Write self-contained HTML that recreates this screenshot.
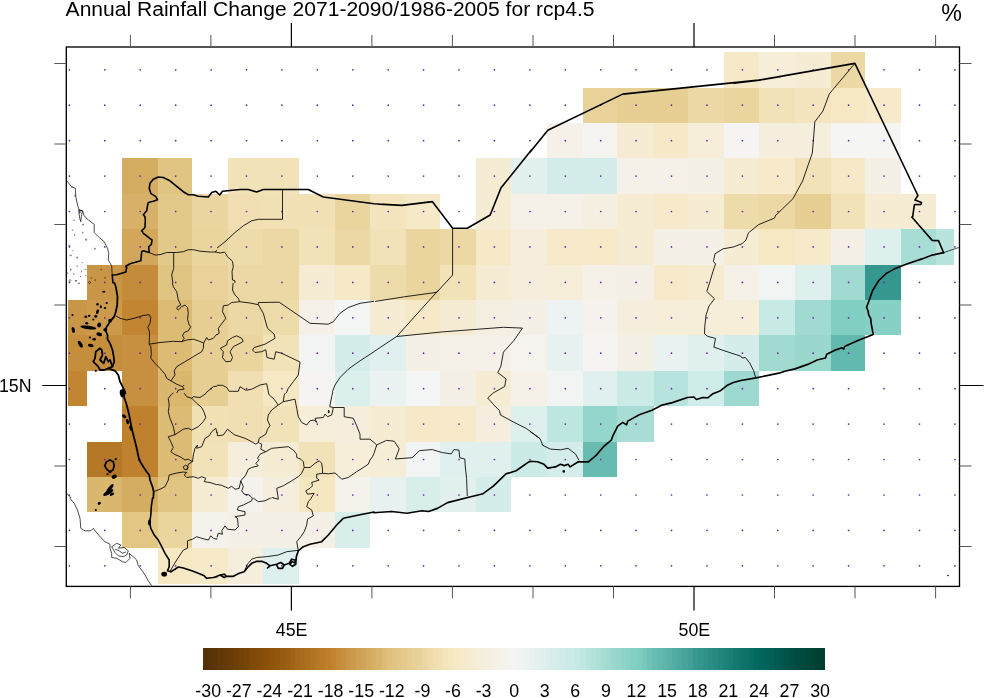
<!DOCTYPE html>
<html lang="en"><head><meta charset="utf-8"><title>Annual Rainfall Change 2071-2090/1986-2005 for rcp4.5</title>
<style>html,body{margin:0;padding:0;background:#fff}body{width:984px;height:698px;overflow:hidden}svg{display:block}text{font-family:"Liberation Sans",sans-serif;fill:#000}</style></head><body>
<svg width="984" height="698" viewBox="0 0 984 698">
<rect width="984" height="698" fill="#fff"/>
<g shape-rendering="crispEdges">
<rect x="724" y="52" width="35" height="36" fill="#f6e9c7"/>
<rect x="759" y="52" width="36" height="36" fill="#f6eed9"/>
<rect x="795" y="52" width="36" height="36" fill="#f6ecd3"/>
<rect x="831" y="52" width="34" height="36" fill="#ecd8a5"/>
<rect x="583" y="88" width="34" height="35" fill="#e8d29a"/>
<rect x="617" y="88" width="37" height="35" fill="#e7cf94"/>
<rect x="654" y="88" width="34" height="35" fill="#e7cf94"/>
<rect x="688" y="88" width="36" height="35" fill="#ecd8a5"/>
<rect x="724" y="88" width="35" height="35" fill="#ead59f"/>
<rect x="759" y="88" width="36" height="35" fill="#f2e2b8"/>
<rect x="795" y="88" width="36" height="35" fill="#f4e5be"/>
<rect x="831" y="88" width="34" height="35" fill="#f6e8c3"/>
<rect x="865" y="88" width="36" height="35" fill="#f6eacb"/>
<rect x="547" y="123" width="36" height="35" fill="#f5f1e9"/>
<rect x="583" y="123" width="34" height="35" fill="#f5f4f0"/>
<rect x="617" y="123" width="37" height="35" fill="#f6ecd3"/>
<rect x="654" y="123" width="34" height="35" fill="#f6e9c7"/>
<rect x="688" y="123" width="36" height="35" fill="#f6eed9"/>
<rect x="724" y="123" width="35" height="35" fill="#f5f4f2"/>
<rect x="759" y="123" width="36" height="35" fill="#f5eedd"/>
<rect x="795" y="123" width="36" height="35" fill="#f5eedd"/>
<rect x="831" y="123" width="34" height="35" fill="#f5f5f4"/>
<rect x="865" y="123" width="36" height="35" fill="#f5f5f4"/>
<rect x="122" y="158" width="36" height="36" fill="#d4ac62"/>
<rect x="158" y="158" width="34" height="36" fill="#e0c481"/>
<rect x="228" y="158" width="35" height="36" fill="#f2e2b8"/>
<rect x="263" y="158" width="36" height="36" fill="#f2e2b8"/>
<rect x="476" y="158" width="35" height="36" fill="#f6ecd3"/>
<rect x="511" y="158" width="36" height="36" fill="#e2f0ee"/>
<rect x="547" y="158" width="36" height="36" fill="#d5edea"/>
<rect x="583" y="158" width="34" height="36" fill="#d5edea"/>
<rect x="617" y="158" width="37" height="36" fill="#f5f1e9"/>
<rect x="654" y="158" width="34" height="36" fill="#f5f1e9"/>
<rect x="688" y="158" width="36" height="36" fill="#f5f0e5"/>
<rect x="724" y="158" width="35" height="36" fill="#f6ecd3"/>
<rect x="759" y="158" width="36" height="36" fill="#f6eacb"/>
<rect x="795" y="158" width="36" height="36" fill="#f2e2b8"/>
<rect x="831" y="158" width="34" height="36" fill="#f6e9c7"/>
<rect x="865" y="158" width="36" height="36" fill="#f5f0e5"/>
<rect x="122" y="194" width="36" height="35" fill="#d7b169"/>
<rect x="158" y="194" width="34" height="35" fill="#e3c989"/>
<rect x="192" y="194" width="36" height="35" fill="#ebd6a2"/>
<rect x="228" y="194" width="35" height="35" fill="#f1dfb3"/>
<rect x="263" y="194" width="36" height="35" fill="#f1e1b5"/>
<rect x="299" y="194" width="36" height="35" fill="#f1e1b5"/>
<rect x="335" y="194" width="35" height="35" fill="#ead59f"/>
<rect x="370" y="194" width="36" height="35" fill="#f4e5be"/>
<rect x="406" y="194" width="34" height="35" fill="#f6e9c7"/>
<rect x="476" y="194" width="35" height="35" fill="#f6ecd3"/>
<rect x="511" y="194" width="36" height="35" fill="#f5f1e9"/>
<rect x="547" y="194" width="36" height="35" fill="#f5f1e9"/>
<rect x="583" y="194" width="34" height="35" fill="#f5efe1"/>
<rect x="617" y="194" width="37" height="35" fill="#f6ecd3"/>
<rect x="654" y="194" width="34" height="35" fill="#f6eacb"/>
<rect x="688" y="194" width="36" height="35" fill="#f6ecd3"/>
<rect x="724" y="194" width="35" height="35" fill="#eedbaa"/>
<rect x="759" y="194" width="36" height="35" fill="#ecd8a5"/>
<rect x="795" y="194" width="36" height="35" fill="#e7cf94"/>
<rect x="831" y="194" width="34" height="35" fill="#f2e2b8"/>
<rect x="865" y="194" width="36" height="35" fill="#f6ecd3"/>
<rect x="901" y="194" width="35" height="35" fill="#f6ecd3"/>
<rect x="122" y="229" width="36" height="36" fill="#d2a75c"/>
<rect x="158" y="229" width="34" height="36" fill="#e3c989"/>
<rect x="192" y="229" width="36" height="36" fill="#ead59f"/>
<rect x="228" y="229" width="35" height="36" fill="#eedbaa"/>
<rect x="263" y="229" width="36" height="36" fill="#ecd8a5"/>
<rect x="299" y="229" width="36" height="36" fill="#f2e2b8"/>
<rect x="335" y="229" width="35" height="36" fill="#ecd8a5"/>
<rect x="370" y="229" width="36" height="36" fill="#f2e2b8"/>
<rect x="406" y="229" width="34" height="36" fill="#ead59f"/>
<rect x="440" y="229" width="36" height="36" fill="#ecd8a5"/>
<rect x="476" y="229" width="35" height="36" fill="#f6e9c7"/>
<rect x="511" y="229" width="36" height="36" fill="#f5eedd"/>
<rect x="547" y="229" width="36" height="36" fill="#f6eacb"/>
<rect x="583" y="229" width="34" height="36" fill="#f6eac9"/>
<rect x="617" y="229" width="37" height="36" fill="#f6ecd3"/>
<rect x="654" y="229" width="34" height="36" fill="#f5f0e5"/>
<rect x="688" y="229" width="36" height="36" fill="#f5f0e5"/>
<rect x="724" y="229" width="35" height="36" fill="#f6ecd3"/>
<rect x="759" y="229" width="36" height="36" fill="#f6e8c3"/>
<rect x="795" y="229" width="36" height="36" fill="#f6eacb"/>
<rect x="831" y="229" width="34" height="36" fill="#f5f0e5"/>
<rect x="865" y="229" width="36" height="36" fill="#def0ed"/>
<rect x="901" y="229" width="35" height="36" fill="#a8ddd5"/>
<rect x="936" y="229" width="18" height="36" fill="#b9e4de"/>
<rect x="87" y="265" width="35" height="35" fill="#c99546"/>
<rect x="122" y="265" width="36" height="35" fill="#c48b3a"/>
<rect x="158" y="265" width="34" height="35" fill="#e0c481"/>
<rect x="192" y="265" width="36" height="35" fill="#e8d29a"/>
<rect x="228" y="265" width="35" height="35" fill="#ecd8a5"/>
<rect x="263" y="265" width="36" height="35" fill="#ecd8a5"/>
<rect x="299" y="265" width="36" height="35" fill="#f6ecd3"/>
<rect x="335" y="265" width="35" height="35" fill="#f6e9c7"/>
<rect x="370" y="265" width="36" height="35" fill="#eedbaa"/>
<rect x="406" y="265" width="34" height="35" fill="#ead59f"/>
<rect x="440" y="265" width="36" height="35" fill="#f2e2b8"/>
<rect x="476" y="265" width="35" height="35" fill="#f6ecd3"/>
<rect x="511" y="265" width="36" height="35" fill="#f5eedd"/>
<rect x="547" y="265" width="36" height="35" fill="#f6eed9"/>
<rect x="583" y="265" width="34" height="35" fill="#f5f1e9"/>
<rect x="617" y="265" width="37" height="35" fill="#f5f0e5"/>
<rect x="654" y="265" width="34" height="35" fill="#f6eacb"/>
<rect x="688" y="265" width="36" height="35" fill="#f6ebcf"/>
<rect x="724" y="265" width="35" height="35" fill="#f5f1e9"/>
<rect x="759" y="265" width="36" height="35" fill="#f0f4f3"/>
<rect x="795" y="265" width="36" height="35" fill="#def0ed"/>
<rect x="831" y="265" width="34" height="35" fill="#a0dad1"/>
<rect x="865" y="265" width="36" height="35" fill="#35978f"/>
<rect x="68" y="300" width="19" height="35" fill="#c99546"/>
<rect x="87" y="300" width="35" height="35" fill="#cc9a4c"/>
<rect x="122" y="300" width="36" height="35" fill="#c28633"/>
<rect x="158" y="300" width="34" height="35" fill="#dcbc75"/>
<rect x="192" y="300" width="36" height="35" fill="#e7cf94"/>
<rect x="228" y="300" width="35" height="35" fill="#ecd8a5"/>
<rect x="263" y="300" width="36" height="35" fill="#eedbaa"/>
<rect x="299" y="300" width="36" height="35" fill="#f5f1e9"/>
<rect x="335" y="300" width="35" height="35" fill="#f4f5f5"/>
<rect x="370" y="300" width="36" height="35" fill="#f6ecd3"/>
<rect x="406" y="300" width="34" height="35" fill="#f6e9c7"/>
<rect x="440" y="300" width="36" height="35" fill="#f6ecd3"/>
<rect x="476" y="300" width="35" height="35" fill="#f5efe1"/>
<rect x="511" y="300" width="36" height="35" fill="#f5f0e5"/>
<rect x="547" y="300" width="36" height="35" fill="#edf3f2"/>
<rect x="583" y="300" width="34" height="35" fill="#f5f2ed"/>
<rect x="617" y="300" width="37" height="35" fill="#f5eedd"/>
<rect x="654" y="300" width="34" height="35" fill="#f6eed9"/>
<rect x="688" y="300" width="36" height="35" fill="#f6eed9"/>
<rect x="724" y="300" width="35" height="35" fill="#f6eed9"/>
<rect x="759" y="300" width="36" height="35" fill="#c7eae5"/>
<rect x="795" y="300" width="36" height="35" fill="#a0dad1"/>
<rect x="831" y="300" width="34" height="35" fill="#81cec2"/>
<rect x="865" y="300" width="36" height="35" fill="#87d0c5"/>
<rect x="68" y="335" width="19" height="36" fill="#c58e3d"/>
<rect x="87" y="335" width="35" height="36" fill="#c58e3d"/>
<rect x="122" y="335" width="36" height="36" fill="#c79040"/>
<rect x="158" y="335" width="34" height="36" fill="#dcbc75"/>
<rect x="192" y="335" width="36" height="36" fill="#e7cf94"/>
<rect x="228" y="335" width="35" height="36" fill="#ead59f"/>
<rect x="263" y="335" width="36" height="36" fill="#f2e2b8"/>
<rect x="299" y="335" width="36" height="36" fill="#f2f4f4"/>
<rect x="335" y="335" width="35" height="36" fill="#d5edea"/>
<rect x="370" y="335" width="36" height="36" fill="#e0f0ee"/>
<rect x="406" y="335" width="34" height="36" fill="#f5f0e5"/>
<rect x="440" y="335" width="36" height="36" fill="#f5f1e9"/>
<rect x="476" y="335" width="35" height="36" fill="#f5f1e9"/>
<rect x="511" y="335" width="36" height="36" fill="#f5f3ee"/>
<rect x="547" y="335" width="36" height="36" fill="#e6f1f0"/>
<rect x="583" y="335" width="34" height="36" fill="#f5f4f2"/>
<rect x="617" y="335" width="37" height="36" fill="#f5f0e5"/>
<rect x="654" y="335" width="34" height="36" fill="#ebf3f2"/>
<rect x="688" y="335" width="36" height="36" fill="#e0f0ee"/>
<rect x="724" y="335" width="35" height="36" fill="#d5edea"/>
<rect x="759" y="335" width="36" height="36" fill="#a0dad1"/>
<rect x="795" y="335" width="36" height="36" fill="#9ad8ce"/>
<rect x="831" y="335" width="34" height="36" fill="#64b9ae"/>
<rect x="68" y="371" width="19" height="35" fill="#c28633"/>
<rect x="122" y="371" width="36" height="35" fill="#c79040"/>
<rect x="158" y="371" width="34" height="35" fill="#d9b76f"/>
<rect x="192" y="371" width="36" height="35" fill="#e7cf94"/>
<rect x="228" y="371" width="35" height="35" fill="#f1dfb3"/>
<rect x="263" y="371" width="36" height="35" fill="#f6e8c3"/>
<rect x="299" y="371" width="36" height="35" fill="#f5f4f2"/>
<rect x="335" y="371" width="35" height="35" fill="#dbefec"/>
<rect x="370" y="371" width="36" height="35" fill="#ebf3f2"/>
<rect x="406" y="371" width="34" height="35" fill="#f4f5f5"/>
<rect x="440" y="371" width="36" height="35" fill="#f5f0e5"/>
<rect x="476" y="371" width="35" height="35" fill="#f6ecd3"/>
<rect x="511" y="371" width="36" height="35" fill="#f5f1e9"/>
<rect x="547" y="371" width="36" height="35" fill="#f2f4f4"/>
<rect x="583" y="371" width="34" height="35" fill="#e0f0ee"/>
<rect x="617" y="371" width="37" height="35" fill="#cbebe6"/>
<rect x="654" y="371" width="34" height="35" fill="#b6e3dd"/>
<rect x="688" y="371" width="36" height="35" fill="#ceece8"/>
<rect x="724" y="371" width="35" height="35" fill="#9dd9d0"/>
<rect x="122" y="406" width="36" height="36" fill="#bf812d"/>
<rect x="158" y="406" width="34" height="36" fill="#dcbc75"/>
<rect x="192" y="406" width="36" height="36" fill="#f1e1b5"/>
<rect x="228" y="406" width="35" height="36" fill="#f1dfb3"/>
<rect x="263" y="406" width="36" height="36" fill="#f2e2b8"/>
<rect x="299" y="406" width="36" height="36" fill="#f6eed9"/>
<rect x="335" y="406" width="35" height="36" fill="#f5eedd"/>
<rect x="370" y="406" width="36" height="36" fill="#f6ecd3"/>
<rect x="406" y="406" width="34" height="36" fill="#f6e9c7"/>
<rect x="440" y="406" width="36" height="36" fill="#f6eacb"/>
<rect x="476" y="406" width="35" height="36" fill="#f5eedf"/>
<rect x="511" y="406" width="36" height="36" fill="#def0ed"/>
<rect x="547" y="406" width="36" height="36" fill="#bfe7e1"/>
<rect x="583" y="406" width="34" height="36" fill="#95d6cc"/>
<rect x="617" y="406" width="37" height="36" fill="#a8ddd5"/>
<rect x="87" y="442" width="35" height="35" fill="#b57826"/>
<rect x="122" y="442" width="36" height="35" fill="#bf812d"/>
<rect x="158" y="442" width="34" height="35" fill="#dcbc75"/>
<rect x="192" y="442" width="36" height="35" fill="#f2e2b8"/>
<rect x="228" y="442" width="35" height="35" fill="#f5eedd"/>
<rect x="263" y="442" width="36" height="35" fill="#f6ecd3"/>
<rect x="299" y="442" width="36" height="35" fill="#f2e2b8"/>
<rect x="335" y="442" width="35" height="35" fill="#f6eed9"/>
<rect x="370" y="442" width="36" height="35" fill="#f6edd7"/>
<rect x="406" y="442" width="34" height="35" fill="#f0f4f3"/>
<rect x="440" y="442" width="36" height="35" fill="#e0f0ee"/>
<rect x="476" y="442" width="35" height="35" fill="#e0f0ee"/>
<rect x="511" y="442" width="36" height="35" fill="#cbebe6"/>
<rect x="547" y="442" width="36" height="35" fill="#d5edea"/>
<rect x="583" y="442" width="34" height="35" fill="#67bbb0"/>
<rect x="87" y="477" width="35" height="35" fill="#d9b76f"/>
<rect x="122" y="477" width="36" height="35" fill="#d4ac62"/>
<rect x="158" y="477" width="34" height="35" fill="#e0c481"/>
<rect x="192" y="477" width="36" height="35" fill="#f6ecd3"/>
<rect x="228" y="477" width="35" height="35" fill="#f5f2ed"/>
<rect x="263" y="477" width="36" height="35" fill="#f5eedf"/>
<rect x="299" y="477" width="36" height="35" fill="#f5e7c0"/>
<rect x="335" y="477" width="35" height="35" fill="#f5f1eb"/>
<rect x="370" y="477" width="36" height="35" fill="#e6f1f0"/>
<rect x="406" y="477" width="34" height="35" fill="#d7eeeb"/>
<rect x="440" y="477" width="36" height="35" fill="#e2f0ee"/>
<rect x="476" y="477" width="35" height="35" fill="#d5edea"/>
<rect x="122" y="512" width="36" height="36" fill="#e1c684"/>
<rect x="158" y="512" width="34" height="36" fill="#ead59f"/>
<rect x="192" y="512" width="36" height="36" fill="#f5f1eb"/>
<rect x="228" y="512" width="35" height="36" fill="#f5f0e5"/>
<rect x="263" y="512" width="36" height="36" fill="#f5f0e5"/>
<rect x="299" y="512" width="36" height="36" fill="#f5f0e5"/>
<rect x="335" y="512" width="35" height="36" fill="#d7eeeb"/>
<rect x="158" y="548" width="34" height="36" fill="#f6e8c3"/>
<rect x="192" y="548" width="36" height="36" fill="#f6eac9"/>
<rect x="228" y="548" width="35" height="36" fill="#f5eedd"/>
<rect x="263" y="548" width="36" height="36" fill="#def0ed"/>
</g>
<g fill="#721fa3">
<circle cx="69.4" cy="69.8" r="0.85"/>
<circle cx="104.8" cy="69.8" r="0.85"/>
<circle cx="140.2" cy="69.8" r="0.85"/>
<circle cx="175.7" cy="69.8" r="0.85"/>
<circle cx="211.1" cy="69.8" r="0.85"/>
<circle cx="246.5" cy="69.8" r="0.85"/>
<circle cx="281.9" cy="69.8" r="0.85"/>
<circle cx="317.3" cy="69.8" r="0.85"/>
<circle cx="352.8" cy="69.8" r="0.85"/>
<circle cx="388.2" cy="69.8" r="0.85"/>
<circle cx="423.6" cy="69.8" r="0.85"/>
<circle cx="459.0" cy="69.8" r="0.85"/>
<circle cx="494.4" cy="69.8" r="0.85"/>
<circle cx="529.9" cy="69.8" r="0.85"/>
<circle cx="565.3" cy="69.8" r="0.85"/>
<circle cx="600.7" cy="69.8" r="0.85"/>
<circle cx="636.1" cy="69.8" r="0.85"/>
<circle cx="671.5" cy="69.8" r="0.85"/>
<circle cx="707.0" cy="69.8" r="0.85"/>
<circle cx="742.4" cy="69.8" r="0.85"/>
<circle cx="777.8" cy="69.8" r="0.85"/>
<circle cx="813.2" cy="69.8" r="0.85"/>
<circle cx="848.6" cy="69.8" r="0.85"/>
<circle cx="884.1" cy="69.8" r="0.85"/>
<circle cx="919.5" cy="69.8" r="0.85"/>
<circle cx="954.9" cy="69.8" r="0.85"/>
<circle cx="69.4" cy="105.2" r="0.85"/>
<circle cx="104.8" cy="105.2" r="0.85"/>
<circle cx="140.2" cy="105.2" r="0.85"/>
<circle cx="175.7" cy="105.2" r="0.85"/>
<circle cx="211.1" cy="105.2" r="0.85"/>
<circle cx="246.5" cy="105.2" r="0.85"/>
<circle cx="281.9" cy="105.2" r="0.85"/>
<circle cx="317.3" cy="105.2" r="0.85"/>
<circle cx="352.8" cy="105.2" r="0.85"/>
<circle cx="388.2" cy="105.2" r="0.85"/>
<circle cx="423.6" cy="105.2" r="0.85"/>
<circle cx="459.0" cy="105.2" r="0.85"/>
<circle cx="494.4" cy="105.2" r="0.85"/>
<circle cx="529.9" cy="105.2" r="0.85"/>
<circle cx="565.3" cy="105.2" r="0.85"/>
<circle cx="600.7" cy="105.2" r="0.85"/>
<circle cx="636.1" cy="105.2" r="0.85"/>
<circle cx="671.5" cy="105.2" r="0.85"/>
<circle cx="707.0" cy="105.2" r="0.85"/>
<circle cx="742.4" cy="105.2" r="0.85"/>
<circle cx="777.8" cy="105.2" r="0.85"/>
<circle cx="813.2" cy="105.2" r="0.85"/>
<circle cx="848.6" cy="105.2" r="0.85"/>
<circle cx="884.1" cy="105.2" r="0.85"/>
<circle cx="919.5" cy="105.2" r="0.85"/>
<circle cx="954.9" cy="105.2" r="0.85"/>
<circle cx="69.4" cy="140.7" r="0.85"/>
<circle cx="104.8" cy="140.7" r="0.85"/>
<circle cx="140.2" cy="140.7" r="0.85"/>
<circle cx="175.7" cy="140.7" r="0.85"/>
<circle cx="211.1" cy="140.7" r="0.85"/>
<circle cx="246.5" cy="140.7" r="0.85"/>
<circle cx="281.9" cy="140.7" r="0.85"/>
<circle cx="317.3" cy="140.7" r="0.85"/>
<circle cx="352.8" cy="140.7" r="0.85"/>
<circle cx="388.2" cy="140.7" r="0.85"/>
<circle cx="423.6" cy="140.7" r="0.85"/>
<circle cx="459.0" cy="140.7" r="0.85"/>
<circle cx="494.4" cy="140.7" r="0.85"/>
<circle cx="529.9" cy="140.7" r="0.85"/>
<circle cx="565.3" cy="140.7" r="0.85"/>
<circle cx="600.7" cy="140.7" r="0.85"/>
<circle cx="636.1" cy="140.7" r="0.85"/>
<circle cx="671.5" cy="140.7" r="0.85"/>
<circle cx="707.0" cy="140.7" r="0.85"/>
<circle cx="742.4" cy="140.7" r="0.85"/>
<circle cx="777.8" cy="140.7" r="0.85"/>
<circle cx="813.2" cy="140.7" r="0.85"/>
<circle cx="848.6" cy="140.7" r="0.85"/>
<circle cx="884.1" cy="140.7" r="0.85"/>
<circle cx="919.5" cy="140.7" r="0.85"/>
<circle cx="954.9" cy="140.7" r="0.85"/>
<circle cx="69.4" cy="176.1" r="0.85"/>
<circle cx="104.8" cy="176.1" r="0.85"/>
<circle cx="140.2" cy="176.1" r="0.85"/>
<circle cx="175.7" cy="176.1" r="0.85"/>
<circle cx="211.1" cy="176.1" r="0.85"/>
<circle cx="246.5" cy="176.1" r="0.85"/>
<circle cx="281.9" cy="176.1" r="0.85"/>
<circle cx="317.3" cy="176.1" r="0.85"/>
<circle cx="352.8" cy="176.1" r="0.85"/>
<circle cx="388.2" cy="176.1" r="0.85"/>
<circle cx="423.6" cy="176.1" r="0.85"/>
<circle cx="459.0" cy="176.1" r="0.85"/>
<circle cx="494.4" cy="176.1" r="0.85"/>
<circle cx="529.9" cy="176.1" r="0.85"/>
<circle cx="565.3" cy="176.1" r="0.85"/>
<circle cx="600.7" cy="176.1" r="0.85"/>
<circle cx="636.1" cy="176.1" r="0.85"/>
<circle cx="671.5" cy="176.1" r="0.85"/>
<circle cx="707.0" cy="176.1" r="0.85"/>
<circle cx="742.4" cy="176.1" r="0.85"/>
<circle cx="777.8" cy="176.1" r="0.85"/>
<circle cx="813.2" cy="176.1" r="0.85"/>
<circle cx="848.6" cy="176.1" r="0.85"/>
<circle cx="884.1" cy="176.1" r="0.85"/>
<circle cx="919.5" cy="176.1" r="0.85"/>
<circle cx="954.9" cy="176.1" r="0.85"/>
<circle cx="69.4" cy="211.5" r="0.85"/>
<circle cx="104.8" cy="211.5" r="0.85"/>
<circle cx="140.2" cy="211.5" r="0.85"/>
<circle cx="175.7" cy="211.5" r="0.85"/>
<circle cx="211.1" cy="211.5" r="0.85"/>
<circle cx="246.5" cy="211.5" r="0.85"/>
<circle cx="281.9" cy="211.5" r="0.85"/>
<circle cx="317.3" cy="211.5" r="0.85"/>
<circle cx="352.8" cy="211.5" r="0.85"/>
<circle cx="388.2" cy="211.5" r="0.85"/>
<circle cx="423.6" cy="211.5" r="0.85"/>
<circle cx="459.0" cy="211.5" r="0.85"/>
<circle cx="494.4" cy="211.5" r="0.85"/>
<circle cx="529.9" cy="211.5" r="0.85"/>
<circle cx="565.3" cy="211.5" r="0.85"/>
<circle cx="600.7" cy="211.5" r="0.85"/>
<circle cx="636.1" cy="211.5" r="0.85"/>
<circle cx="671.5" cy="211.5" r="0.85"/>
<circle cx="707.0" cy="211.5" r="0.85"/>
<circle cx="742.4" cy="211.5" r="0.85"/>
<circle cx="777.8" cy="211.5" r="0.85"/>
<circle cx="813.2" cy="211.5" r="0.85"/>
<circle cx="848.6" cy="211.5" r="0.85"/>
<circle cx="884.1" cy="211.5" r="0.85"/>
<circle cx="919.5" cy="211.5" r="0.85"/>
<circle cx="954.9" cy="211.5" r="0.85"/>
<circle cx="69.4" cy="246.9" r="0.85"/>
<circle cx="104.8" cy="246.9" r="0.85"/>
<circle cx="140.2" cy="246.9" r="0.85"/>
<circle cx="175.7" cy="246.9" r="0.85"/>
<circle cx="211.1" cy="246.9" r="0.85"/>
<circle cx="246.5" cy="246.9" r="0.85"/>
<circle cx="281.9" cy="246.9" r="0.85"/>
<circle cx="317.3" cy="246.9" r="0.85"/>
<circle cx="352.8" cy="246.9" r="0.85"/>
<circle cx="388.2" cy="246.9" r="0.85"/>
<circle cx="423.6" cy="246.9" r="0.85"/>
<circle cx="459.0" cy="246.9" r="0.85"/>
<circle cx="494.4" cy="246.9" r="0.85"/>
<circle cx="529.9" cy="246.9" r="0.85"/>
<circle cx="565.3" cy="246.9" r="0.85"/>
<circle cx="600.7" cy="246.9" r="0.85"/>
<circle cx="636.1" cy="246.9" r="0.85"/>
<circle cx="671.5" cy="246.9" r="0.85"/>
<circle cx="707.0" cy="246.9" r="0.85"/>
<circle cx="742.4" cy="246.9" r="0.85"/>
<circle cx="777.8" cy="246.9" r="0.85"/>
<circle cx="813.2" cy="246.9" r="0.85"/>
<circle cx="848.6" cy="246.9" r="0.85"/>
<circle cx="884.1" cy="246.9" r="0.85"/>
<circle cx="919.5" cy="246.9" r="0.85"/>
<circle cx="954.9" cy="246.9" r="0.85"/>
<circle cx="69.4" cy="282.4" r="0.85"/>
<circle cx="104.8" cy="282.4" r="0.85"/>
<circle cx="140.2" cy="282.4" r="0.85"/>
<circle cx="175.7" cy="282.4" r="0.85"/>
<circle cx="211.1" cy="282.4" r="0.85"/>
<circle cx="246.5" cy="282.4" r="0.85"/>
<circle cx="281.9" cy="282.4" r="0.85"/>
<circle cx="317.3" cy="282.4" r="0.85"/>
<circle cx="352.8" cy="282.4" r="0.85"/>
<circle cx="388.2" cy="282.4" r="0.85"/>
<circle cx="423.6" cy="282.4" r="0.85"/>
<circle cx="459.0" cy="282.4" r="0.85"/>
<circle cx="494.4" cy="282.4" r="0.85"/>
<circle cx="529.9" cy="282.4" r="0.85"/>
<circle cx="565.3" cy="282.4" r="0.85"/>
<circle cx="600.7" cy="282.4" r="0.85"/>
<circle cx="636.1" cy="282.4" r="0.85"/>
<circle cx="671.5" cy="282.4" r="0.85"/>
<circle cx="707.0" cy="282.4" r="0.85"/>
<circle cx="742.4" cy="282.4" r="0.85"/>
<circle cx="777.8" cy="282.4" r="0.85"/>
<circle cx="813.2" cy="282.4" r="0.85"/>
<circle cx="848.6" cy="282.4" r="0.85"/>
<circle cx="884.1" cy="282.4" r="0.85"/>
<circle cx="919.5" cy="282.4" r="0.85"/>
<circle cx="954.9" cy="282.4" r="0.85"/>
<circle cx="69.4" cy="317.8" r="0.85"/>
<circle cx="104.8" cy="317.8" r="0.85"/>
<circle cx="140.2" cy="317.8" r="0.85"/>
<circle cx="175.7" cy="317.8" r="0.85"/>
<circle cx="211.1" cy="317.8" r="0.85"/>
<circle cx="246.5" cy="317.8" r="0.85"/>
<circle cx="281.9" cy="317.8" r="0.85"/>
<circle cx="317.3" cy="317.8" r="0.85"/>
<circle cx="352.8" cy="317.8" r="0.85"/>
<circle cx="388.2" cy="317.8" r="0.85"/>
<circle cx="423.6" cy="317.8" r="0.85"/>
<circle cx="459.0" cy="317.8" r="0.85"/>
<circle cx="494.4" cy="317.8" r="0.85"/>
<circle cx="529.9" cy="317.8" r="0.85"/>
<circle cx="565.3" cy="317.8" r="0.85"/>
<circle cx="600.7" cy="317.8" r="0.85"/>
<circle cx="636.1" cy="317.8" r="0.85"/>
<circle cx="671.5" cy="317.8" r="0.85"/>
<circle cx="707.0" cy="317.8" r="0.85"/>
<circle cx="742.4" cy="317.8" r="0.85"/>
<circle cx="777.8" cy="317.8" r="0.85"/>
<circle cx="813.2" cy="317.8" r="0.85"/>
<circle cx="848.6" cy="317.8" r="0.85"/>
<circle cx="884.1" cy="317.8" r="0.85"/>
<circle cx="919.5" cy="317.8" r="0.85"/>
<circle cx="954.9" cy="317.8" r="0.85"/>
<circle cx="69.4" cy="353.2" r="0.85"/>
<circle cx="104.8" cy="353.2" r="0.85"/>
<circle cx="140.2" cy="353.2" r="0.85"/>
<circle cx="175.7" cy="353.2" r="0.85"/>
<circle cx="211.1" cy="353.2" r="0.85"/>
<circle cx="246.5" cy="353.2" r="0.85"/>
<circle cx="281.9" cy="353.2" r="0.85"/>
<circle cx="317.3" cy="353.2" r="0.85"/>
<circle cx="352.8" cy="353.2" r="0.85"/>
<circle cx="388.2" cy="353.2" r="0.85"/>
<circle cx="423.6" cy="353.2" r="0.85"/>
<circle cx="459.0" cy="353.2" r="0.85"/>
<circle cx="494.4" cy="353.2" r="0.85"/>
<circle cx="529.9" cy="353.2" r="0.85"/>
<circle cx="565.3" cy="353.2" r="0.85"/>
<circle cx="600.7" cy="353.2" r="0.85"/>
<circle cx="636.1" cy="353.2" r="0.85"/>
<circle cx="671.5" cy="353.2" r="0.85"/>
<circle cx="707.0" cy="353.2" r="0.85"/>
<circle cx="742.4" cy="353.2" r="0.85"/>
<circle cx="777.8" cy="353.2" r="0.85"/>
<circle cx="813.2" cy="353.2" r="0.85"/>
<circle cx="848.6" cy="353.2" r="0.85"/>
<circle cx="884.1" cy="353.2" r="0.85"/>
<circle cx="919.5" cy="353.2" r="0.85"/>
<circle cx="954.9" cy="353.2" r="0.85"/>
<circle cx="69.4" cy="388.7" r="0.85"/>
<circle cx="104.8" cy="388.7" r="0.85"/>
<circle cx="140.2" cy="388.7" r="0.85"/>
<circle cx="175.7" cy="388.7" r="0.85"/>
<circle cx="211.1" cy="388.7" r="0.85"/>
<circle cx="246.5" cy="388.7" r="0.85"/>
<circle cx="281.9" cy="388.7" r="0.85"/>
<circle cx="317.3" cy="388.7" r="0.85"/>
<circle cx="352.8" cy="388.7" r="0.85"/>
<circle cx="388.2" cy="388.7" r="0.85"/>
<circle cx="423.6" cy="388.7" r="0.85"/>
<circle cx="459.0" cy="388.7" r="0.85"/>
<circle cx="494.4" cy="388.7" r="0.85"/>
<circle cx="529.9" cy="388.7" r="0.85"/>
<circle cx="565.3" cy="388.7" r="0.85"/>
<circle cx="600.7" cy="388.7" r="0.85"/>
<circle cx="636.1" cy="388.7" r="0.85"/>
<circle cx="671.5" cy="388.7" r="0.85"/>
<circle cx="707.0" cy="388.7" r="0.85"/>
<circle cx="742.4" cy="388.7" r="0.85"/>
<circle cx="777.8" cy="388.7" r="0.85"/>
<circle cx="813.2" cy="388.7" r="0.85"/>
<circle cx="848.6" cy="388.7" r="0.85"/>
<circle cx="884.1" cy="388.7" r="0.85"/>
<circle cx="919.5" cy="388.7" r="0.85"/>
<circle cx="954.9" cy="388.7" r="0.85"/>
<circle cx="69.4" cy="424.1" r="0.85"/>
<circle cx="104.8" cy="424.1" r="0.85"/>
<circle cx="140.2" cy="424.1" r="0.85"/>
<circle cx="175.7" cy="424.1" r="0.85"/>
<circle cx="211.1" cy="424.1" r="0.85"/>
<circle cx="246.5" cy="424.1" r="0.85"/>
<circle cx="281.9" cy="424.1" r="0.85"/>
<circle cx="317.3" cy="424.1" r="0.85"/>
<circle cx="352.8" cy="424.1" r="0.85"/>
<circle cx="388.2" cy="424.1" r="0.85"/>
<circle cx="423.6" cy="424.1" r="0.85"/>
<circle cx="459.0" cy="424.1" r="0.85"/>
<circle cx="494.4" cy="424.1" r="0.85"/>
<circle cx="529.9" cy="424.1" r="0.85"/>
<circle cx="565.3" cy="424.1" r="0.85"/>
<circle cx="600.7" cy="424.1" r="0.85"/>
<circle cx="636.1" cy="424.1" r="0.85"/>
<circle cx="671.5" cy="424.1" r="0.85"/>
<circle cx="707.0" cy="424.1" r="0.85"/>
<circle cx="742.4" cy="424.1" r="0.85"/>
<circle cx="777.8" cy="424.1" r="0.85"/>
<circle cx="813.2" cy="424.1" r="0.85"/>
<circle cx="848.6" cy="424.1" r="0.85"/>
<circle cx="884.1" cy="424.1" r="0.85"/>
<circle cx="919.5" cy="424.1" r="0.85"/>
<circle cx="954.9" cy="424.1" r="0.85"/>
<circle cx="69.4" cy="459.5" r="0.85"/>
<circle cx="104.8" cy="459.5" r="0.85"/>
<circle cx="140.2" cy="459.5" r="0.85"/>
<circle cx="175.7" cy="459.5" r="0.85"/>
<circle cx="211.1" cy="459.5" r="0.85"/>
<circle cx="246.5" cy="459.5" r="0.85"/>
<circle cx="281.9" cy="459.5" r="0.85"/>
<circle cx="317.3" cy="459.5" r="0.85"/>
<circle cx="352.8" cy="459.5" r="0.85"/>
<circle cx="388.2" cy="459.5" r="0.85"/>
<circle cx="423.6" cy="459.5" r="0.85"/>
<circle cx="459.0" cy="459.5" r="0.85"/>
<circle cx="494.4" cy="459.5" r="0.85"/>
<circle cx="529.9" cy="459.5" r="0.85"/>
<circle cx="565.3" cy="459.5" r="0.85"/>
<circle cx="600.7" cy="459.5" r="0.85"/>
<circle cx="636.1" cy="459.5" r="0.85"/>
<circle cx="671.5" cy="459.5" r="0.85"/>
<circle cx="707.0" cy="459.5" r="0.85"/>
<circle cx="742.4" cy="459.5" r="0.85"/>
<circle cx="777.8" cy="459.5" r="0.85"/>
<circle cx="813.2" cy="459.5" r="0.85"/>
<circle cx="848.6" cy="459.5" r="0.85"/>
<circle cx="884.1" cy="459.5" r="0.85"/>
<circle cx="919.5" cy="459.5" r="0.85"/>
<circle cx="954.9" cy="459.5" r="0.85"/>
<circle cx="69.4" cy="495.0" r="0.85"/>
<circle cx="104.8" cy="495.0" r="0.85"/>
<circle cx="140.2" cy="495.0" r="0.85"/>
<circle cx="175.7" cy="495.0" r="0.85"/>
<circle cx="211.1" cy="495.0" r="0.85"/>
<circle cx="246.5" cy="495.0" r="0.85"/>
<circle cx="281.9" cy="495.0" r="0.85"/>
<circle cx="317.3" cy="495.0" r="0.85"/>
<circle cx="352.8" cy="495.0" r="0.85"/>
<circle cx="388.2" cy="495.0" r="0.85"/>
<circle cx="423.6" cy="495.0" r="0.85"/>
<circle cx="459.0" cy="495.0" r="0.85"/>
<circle cx="494.4" cy="495.0" r="0.85"/>
<circle cx="529.9" cy="495.0" r="0.85"/>
<circle cx="565.3" cy="495.0" r="0.85"/>
<circle cx="600.7" cy="495.0" r="0.85"/>
<circle cx="636.1" cy="495.0" r="0.85"/>
<circle cx="671.5" cy="495.0" r="0.85"/>
<circle cx="707.0" cy="495.0" r="0.85"/>
<circle cx="742.4" cy="495.0" r="0.85"/>
<circle cx="777.8" cy="495.0" r="0.85"/>
<circle cx="813.2" cy="495.0" r="0.85"/>
<circle cx="848.6" cy="495.0" r="0.85"/>
<circle cx="884.1" cy="495.0" r="0.85"/>
<circle cx="919.5" cy="495.0" r="0.85"/>
<circle cx="954.9" cy="495.0" r="0.85"/>
<circle cx="69.4" cy="530.4" r="0.85"/>
<circle cx="104.8" cy="530.4" r="0.85"/>
<circle cx="140.2" cy="530.4" r="0.85"/>
<circle cx="175.7" cy="530.4" r="0.85"/>
<circle cx="211.1" cy="530.4" r="0.85"/>
<circle cx="246.5" cy="530.4" r="0.85"/>
<circle cx="281.9" cy="530.4" r="0.85"/>
<circle cx="317.3" cy="530.4" r="0.85"/>
<circle cx="352.8" cy="530.4" r="0.85"/>
<circle cx="388.2" cy="530.4" r="0.85"/>
<circle cx="423.6" cy="530.4" r="0.85"/>
<circle cx="459.0" cy="530.4" r="0.85"/>
<circle cx="494.4" cy="530.4" r="0.85"/>
<circle cx="529.9" cy="530.4" r="0.85"/>
<circle cx="565.3" cy="530.4" r="0.85"/>
<circle cx="600.7" cy="530.4" r="0.85"/>
<circle cx="636.1" cy="530.4" r="0.85"/>
<circle cx="671.5" cy="530.4" r="0.85"/>
<circle cx="707.0" cy="530.4" r="0.85"/>
<circle cx="742.4" cy="530.4" r="0.85"/>
<circle cx="777.8" cy="530.4" r="0.85"/>
<circle cx="813.2" cy="530.4" r="0.85"/>
<circle cx="848.6" cy="530.4" r="0.85"/>
<circle cx="884.1" cy="530.4" r="0.85"/>
<circle cx="919.5" cy="530.4" r="0.85"/>
<circle cx="954.9" cy="530.4" r="0.85"/>
<circle cx="69.4" cy="565.8" r="0.85"/>
<circle cx="104.8" cy="565.8" r="0.85"/>
<circle cx="140.2" cy="565.8" r="0.85"/>
<circle cx="175.7" cy="565.8" r="0.85"/>
<circle cx="211.1" cy="565.8" r="0.85"/>
<circle cx="246.5" cy="565.8" r="0.85"/>
<circle cx="281.9" cy="565.8" r="0.85"/>
<circle cx="317.3" cy="565.8" r="0.85"/>
<circle cx="352.8" cy="565.8" r="0.85"/>
<circle cx="388.2" cy="565.8" r="0.85"/>
<circle cx="423.6" cy="565.8" r="0.85"/>
<circle cx="459.0" cy="565.8" r="0.85"/>
<circle cx="494.4" cy="565.8" r="0.85"/>
<circle cx="529.9" cy="565.8" r="0.85"/>
<circle cx="565.3" cy="565.8" r="0.85"/>
<circle cx="600.7" cy="565.8" r="0.85"/>
<circle cx="636.1" cy="565.8" r="0.85"/>
<circle cx="671.5" cy="565.8" r="0.85"/>
<circle cx="707.0" cy="565.8" r="0.85"/>
<circle cx="742.4" cy="565.8" r="0.85"/>
<circle cx="777.8" cy="565.8" r="0.85"/>
<circle cx="813.2" cy="565.8" r="0.85"/>
<circle cx="848.6" cy="565.8" r="0.85"/>
<circle cx="884.1" cy="565.8" r="0.85"/>
<circle cx="919.5" cy="565.8" r="0.85"/>
<circle cx="954.9" cy="565.8" r="0.85"/>
</g>
<path d="M66.7 180.8L71.7 186.7L75.3 188.3L75.8 196.7L77.5 205.0L79.2 210.0L82.5 210.8L84.2 215.8L88.3 220.0L94.2 224.2L94.2 232.5L98.3 236.7L104.2 241.7L107.5 248.3L108.7 253.3L108.3 260.0L111.7 265.8L112.2 275.0M78.7 210.0L82.5 210.8L81.3 216.7L80.8 221.7L79.7 218.3L78.7 210.0M66.7 493.3L70.0 496.7L71.1 498.0M69.7 498.0L70.0 498.3L74.2 503.3L77.5 510.0L80.0 518.3L80.8 528.3L85.0 530.8L90.8 530.8L93.3 528.3L95.8 531.7L100.8 537.5L105.0 541.7L110.0 544.2L110.0 548.3L111.7 553.3L111.7 557.5L116.7 558.3L122.5 561.7L125.8 562.5L130.0 558.3L129.2 553.3L133.3 556.7L136.7 560.0L138.3 565.8L141.7 570.0L145.0 575.0L148.3 580.8L151.7 585.8M111.7 546.7L116.7 543.3L120.8 545.0L118.3 548.3L124.2 547.5L128.3 550.8L126.7 555.0L123.3 556.7L118.3 555.8L115.0 552.5L111.7 546.7M115.0 549.2L119.2 550.8L122.5 553.3L125.8 552.0M943.6 252.6L958.8 247.5" stroke="#000" stroke-width="0.7" fill="none" stroke-linejoin="round"/>
<path d="M149.2 252.5L155.0 255.0L160.0 254.7L166.7 252.5L176.7 252.5L183.3 251.7L188.3 249.7L193.3 249.7L200.0 251.2L210.0 252.0L215.0 252.0L217.0 252.2M173.7 252.8L173.7 268.3L171.7 275.0L172.9 283.0M215.0 252.0L217.0 250.2M282.5 189.5L282.5 219.3L258.3 219.3L251.7 220.8L243.3 225.8L235.0 232.5L225.0 241.7L217.0 248.1M217.0 252.4L220.0 253.0L224.7 252.2L227.5 256.7L232.5 261.3L233.3 266.7L232.0 271.7L232.5 280.0L235.0 280.8L234.9 283.0M115.8 315.8L120.0 318.3L126.7 320.0L135.0 318.0L143.3 315.5L149.2 314.7L150.8 317.5L150.0 323.3L147.8 327.5L149.5 331.7L149.2 344.2M149.2 344.2L160.0 342.5L173.3 341.3L181.7 341.7L186.7 340.0L193.3 339.2L198.3 340.8L203.7 343.0M149.2 344.2L150.8 346.7L151.3 353.3L150.8 358.3L155.0 363.3L160.0 368.3L165.0 374.2L166.7 378.3L170.8 380.8L176.7 384.2L182.5 386.7M172.4 283.0L173.3 286.7L176.7 291.7L178.3 300.0L180.8 305.0L177.5 306.7L176.7 308.7L178.3 310.0L181.7 306.7L185.0 305.0L187.5 307.5L188.3 313.3L187.5 319.2L189.2 325.0L190.8 326.7L188.3 330.8L184.2 332.5L182.5 335.8L184.2 338.3L181.7 341.7M203.7 343.0L206.7 337.5L208.3 340.0L213.3 338.3L217.0 333.9M203.7 343.0L203.3 348.3L201.7 351.7L193.3 356.7L185.0 361.7L176.7 366.7L174.2 370.8L175.0 375.0L170.8 380.8M184.2 385.0L182.5 386.7L184.2 389.2L178.3 390.0L176.8 393.0M205.7 393.0L213.3 386.7L217.0 386.1M233.1 283.0L232.5 290.0L235.0 295.0L238.3 298.3L239.7 301.7M239.7 301.7L231.7 302.5L228.3 305.0L223.3 305.8L222.5 311.7L225.8 318.3L218.3 328.3L219.2 333.3L217.0 334.9M239.7 301.7L250.0 303.0L258.3 304.7L258.3 302.5L279.2 302.2L310.0 323.3L328.3 324.2L333.3 321.7L340.0 313.3L348.3 307.5L360.0 303.3L374.0 301.3M258.3 304.7L263.3 313.3L267.5 328.3L274.2 334.2L275.0 338.3L265.0 344.2L254.2 347.5L252.5 350.0L255.0 352.5L261.7 351.7L265.8 349.7L267.0 357.5L274.2 359.2L275.8 351.7L281.7 353.3L300.0 362.0L298.3 375.0L293.3 381.7L288.3 388.3L286.3 393.0M236.7 335.8L241.7 338.3L243.3 341.3L240.0 343.3L233.3 346.7L230.0 351.7L232.5 357.5L230.8 361.3L225.8 361.7L222.5 357.5L223.3 351.7L220.3 348.3L226.7 345.0L227.5 340.8L232.5 337.5L236.7 335.8M217.0 385.3L222.5 385.3L226.7 387.5L229.2 391.3L238.3 391.3L240.0 386.7L245.8 390.3L251.7 389.2L260.0 385.0L266.7 383.7L268.0 390.0L268.6 393.0M374.0 351.7L360.0 360.8L348.3 369.2L340.0 377.5L335.0 385.0L332.5 391.7L332.8 393.0M153.7 491.7L160.0 489.2L165.0 486.7L168.3 480.0L169.2 475.0L176.7 473.0L183.3 472.0L186.7 472.5M183.3 466.7L185.8 465.0L188.3 467.5L186.7 470.0L184.2 469.2L183.3 466.7M186.7 472.5L184.2 475.0L186.7 477.5L193.3 476.7L198.3 478.3L201.7 476.7L205.8 478.3L204.2 481.7L210.0 482.5L216.7 484.7L217.0 484.7M192.5 461.7L188.3 459.2L185.0 460.0L180.0 456.7L174.2 454.2L170.8 451.7L173.3 447.5L170.8 441.7L168.3 436.7L175.0 434.7L183.3 429.2L188.3 428.3L191.7 430.0L198.3 426.7L203.3 421.7L205.8 417.5L204.2 412.5L201.7 407.5L196.7 403.3L191.7 398.3L186.7 396.7L184.2 393.3L184.0 393.0M175.0 434.7L173.3 426.7L170.0 418.3L168.3 411.7L169.2 405.0L168.3 398.3L171.7 394.2L173.4 393.0M191.7 398.3L193.3 396.7L200.0 397.5L205.0 394.2L206.4 393.0M186.7 470.0L188.3 464.2L192.5 461.7L193.3 455.0L195.0 448.3L197.5 445.0L196.7 448.3L201.7 446.7L205.0 438.3L209.2 435.8L211.7 431.7L215.8 428.3L217.0 433.0M217.0 431.8L217.5 435.8L223.3 435.0L227.5 429.2L234.2 434.7L245.0 438.3L250.0 440.8L255.8 444.2L258.3 442.5M258.3 442.5L259.2 438.3L265.8 434.2L267.5 429.2L270.0 425.8L267.5 420.0L268.3 415.0L271.7 410.0L278.3 405.0L283.3 401.7L295.0 399.2M278.3 405.0L273.3 398.3L269.2 395.0L268.5 393.0M283.3 401.7L284.2 395.0L285.2 393.0M295.0 399.2L296.7 408.3L298.3 416.7L301.7 422.5L306.7 425.0L310.0 420.8L314.2 420.0L316.7 422.5L315.0 418.3L323.3 417.5L325.0 414.2L327.5 416.7L331.7 415.0L333.3 407.5M333.3 407.5L329.7 406.7L331.7 396.7L332.6 393.0M333.3 407.5L344.2 407.5L344.2 416.7L353.3 418.3L356.7 425.8L360.0 434.2L360.0 439.2L370.0 439.2L374.0 442.5M258.3 442.5L261.7 444.2L260.8 449.2L265.8 451.7L271.7 448.3L280.0 447.5L288.3 446.7L293.3 450.0L296.7 454.2L296.7 457.5L300.8 459.2L303.3 461.7L304.2 467.5M304.2 467.5L301.7 473.3L298.3 476.7L291.7 480.8L283.3 485.8L276.7 488.3L278.2 498.0M274.2 498.0L272.5 497.5L271.4 498.0M252.2 498.0L249.2 495.0L244.2 494.2L241.7 490.8L243.3 486.7L240.8 480.8M265.8 451.7L260.0 454.2L257.5 458.3L259.2 460.0L255.8 463.3L258.3 465.8L251.7 467.5L248.3 469.2L245.8 475.0L240.8 480.8M217.0 484.5L221.7 485.3L228.3 488.3L231.7 486.3L235.0 489.2L239.2 488.3L240.8 480.8M304.2 467.5L310.0 467.5L315.0 463.3L319.2 460.8L321.7 463.3L322.5 469.2L322.5 473.3M322.5 473.3L316.7 474.2L316.7 478.3L319.2 480.0L311.7 482.5L312.5 485.8L310.0 488.3L305.8 490.8L307.5 494.2L314.2 493.3L311.2 498.0M322.5 473.3L328.3 473.8L335.0 473.0L338.3 475.8L341.7 479.2L348.3 477.5L356.7 471.7L363.3 467.5L368.3 464.2L370.0 460.0L372.5 456.7L374.0 453.3M170.0 571.3L176.7 560.0L183.3 550.0L187.5 548.3L187.5 540.8L192.5 539.2L196.7 536.7L201.7 538.3L208.3 540.0L210.8 535.8L213.3 538.3L216.7 539.2L217.0 538.2M244.2 571.7L247.5 564.2L251.7 559.2L256.7 557.5L266.7 556.7L278.3 555.0L286.7 551.7L298.3 550.3M298.3 550.3L296.7 541.7L300.8 536.7L304.2 531.7L306.7 525.0L307.5 519.2L313.3 515.8L311.7 510.0L306.7 506.7L308.3 501.7L311.5 498.0M217.0 537.3L218.3 533.3L222.5 534.2L221.7 530.8L225.0 525.8L227.5 529.2L235.0 530.0L238.3 526.7L237.5 518.3L235.0 516.7L245.0 515.0L245.0 511.7L237.5 510.0L238.3 506.7L243.3 505.0L251.7 500.8L252.4 498.0M253.2 498.0L258.3 501.7L265.0 500.8L270.7 498.0M273.7 498.0L278.3 499.2L278.2 498.0M452.6 228.3L452.6 275.0L436.8 292.3M436.8 292.3L404.3 296.8L375.1 301.4M438.6 290.0L396.7 336.5L373.8 351.7M396.7 336.5L442.4 331.9L503.4 327.3L522.5 328.1L513.6 340.8L503.4 352.2L500.9 366.2L497.8 372.6L506.0 378.9L504.7 386.5L493.3 392.9L487.7 398.0L493.3 404.3L499.6 410.7L500.4 415.0L513.6 422.1L526.3 428.5L540.0 438.6M374.0 442.5L376.7 445.0L374.0 453.3M376.6 445.0L386.5 440.4L394.2 441.2L399.2 448.8L395.4 459.0L412.0 457.7L419.6 450.6L432.3 449.6L442.4 452.6L451.3 453.9L453.9 449.6L459.0 450.1L459.7 457.7L464.8 459.0L465.3 467.1M465.3 467.0L466.6 478.4L467.3 496.2M854.9 63.4L829.3 93.9L822.9 111.1L814.8 121.8L813.3 141.6L812.3 153.1L802.6 181.0L792.9 198.8L782.3 209.0L774.7 216.3M775.9 216.5L773.9 218.3L758.7 224.6L748.5 232.8L746.0 239.9L742.1 243.7L733.3 247.0L723.1 248.8L715.0 253.8L713.4 261.5L715.5 264.0L712.9 271.6L709.9 281.8L706.8 291.4L714.5 298.8L709.1 305.9L706.1 314.8L704.8 326.2L704.5 333.9L707.8 336.4L715.5 338.4L713.9 347.1L723.1 350.4L740.9 356.2L742.1 358.0L745.4 357.5L749.8 363.1L753.6 370.7L755.6 377.6M530.0 431.3L540.2 438.9L542.7 445.3L550.3 449.1L560.5 449.8L568.1 448.3L575.7 454.2L579.0 460.5" stroke="#000" stroke-width="0.85" fill="none" stroke-linejoin="round"/>
<path d="M113.0 283.0L112.2 275.0L116.7 274.7L125.8 272.0L126.7 267.5L125.8 266.3L130.0 263.7L140.8 260.8L141.7 251.7L143.3 250.8L149.2 252.5L148.7 246.7L151.3 244.7L152.0 240.0L149.7 238.3L146.7 235.8L143.3 233.3L141.7 230.8L145.0 227.5L145.3 220.0L145.0 216.7L143.3 214.7L146.7 210.8L147.5 205.8L148.3 202.5L153.3 201.2L157.5 199.7L155.8 196.7L150.8 193.3L149.2 188.3L150.0 183.3L153.3 179.2L158.3 177.0L163.3 177.5L170.0 180.8L176.7 186.3L183.3 191.7L188.3 194.7L193.3 194.7L198.3 196.3L208.3 197.0L211.7 192.5L215.8 191.3L217.0 192.3M217.0 192.4L219.7 195.0L222.5 191.3L240.0 189.5L248.3 189.5L256.7 192.0L263.3 189.5L308.3 189.5L323.3 197.0L374.0 203.7L379.0 204.0M152.6 498.0L152.5 498.3L151.3 506.7L150.8 515.0L149.7 522.5L150.8 528.3L154.2 535.0L158.3 540.0L161.7 546.7L165.0 553.3L169.2 560.0L169.2 566.7L167.5 570.8L170.8 571.7M378.9 204.1L401.8 205.4L432.3 201.6L452.6 228.3L467.3 228.3L490.2 215.0L500.9 188.1L531.4 150.0M530.0 152.3L547.8 130.2L622.7 94.1L758.7 80.1L780.0 76.8M734.0 83.2L759.4 80.1L854.9 63.4L917.9 195.5L914.9 200.1L921.5 202.6L921.0 204.4L914.4 204.6L912.6 217.1M911.8 217.0L932.2 240.4L938.5 240.6L943.6 252.6" stroke="#000" stroke-width="1.6" fill="none" stroke-linejoin="round" stroke-linecap="round"/>
<path d="M170.8 571.7L175.0 569.2L178.3 567.0L183.3 568.0L191.7 570.8L198.3 573.3L204.2 575.8L206.7 578.3L213.3 577.5L217.0 576.6M217.0 576.2L220.0 575.0L224.2 574.2L226.7 576.3L233.3 576.3L239.2 573.3L244.2 571.7L247.5 567.5L251.7 563.3L256.7 561.3L261.7 561.3L266.7 563.3L270.0 565.8L267.5 568.0M270.0 565.8L276.7 564.2L280.8 562.5L284.2 565.0L282.5 568.3L278.3 568.3L276.7 565.0M284.2 565.0L289.2 563.3L291.7 559.2L295.0 560.0L295.6 563.2M295.6 563.2L295.8 564.2L292.5 566.3L289.7 564.2L292.5 561.7L295.6 563.2M295.6 563.2L295.8 563.3L296.3 556.7L298.3 550.8L303.3 546.7L310.0 544.2L321.7 541.7L328.3 535.0L336.7 525.0L343.3 518.3L360.0 514.7L374.0 512.0M220.0 575.0L224.2 577.5L226.7 576.3M530.1 461.7L528.8 461.9L516.1 470.8L506.0 473.9L493.3 486.1L483.1 493.7L467.8 497.5L447.5 502.6L437.4 508.4L428.5 511.5L422.1 510.7L406.9 513.2L391.6 511.5L373.8 512.7M780.0 372.9L784.8 371.2L795.0 368.9L807.7 364.4L817.8 359.8L825.5 358.0L826.7 354.2L834.4 350.4L842.0 347.8L843.8 349.1L844.5 346.6L858.5 340.2L873.2 334.4L871.2 323.7L870.7 318.6L868.7 314.8L868.1 311.0L866.6 307.2L869.9 298.3L872.5 290.7L878.8 280.5L886.4 273.4L894.1 269.1L906.8 264.0L922.0 258.9L932.2 255.1L943.6 252.6M530.0 461.3L537.6 461.8L544.0 464.3L547.8 468.1L555.4 466.9L560.5 464.3L564.3 465.6L568.1 464.3L570.1 466.9L578.3 461.8L588.4 461.8L596.1 455.4L603.7 446.5L611.3 440.2L612.6 436.4L617.7 426.2L622.7 422.4L626.5 424.9L627.8 421.1L639.2 414.8L652.0 410.2L662.1 405.1L672.3 402.6L687.5 397.5L693.9 397.0L696.4 399.5L702.8 397.5L707.8 397.8L712.9 393.7L720.5 390.7L726.9 385.6L733.3 382.5L740.9 380.5L756.1 377.9L780.0 372.9" stroke="#000" stroke-width="1.65" fill="none" stroke-linejoin="round" stroke-linecap="round"/>
<path d="M114.5 283.0L115.8 286.7L117.5 296.7L117.2 305.0L115.8 311.7L114.2 316.7L110.0 321.7L106.7 326.7L105.3 330.0L107.5 335.0L107.5 339.2L110.0 343.3L112.5 350.0L113.7 356.7L114.2 361.7L112.5 366.7L108.3 368.3L115.0 370.8L118.3 375.0L120.0 381.7L122.5 386.7L125.0 391.7L125.4 393.0M108.3 368.3L104.2 370.0L100.0 370.0L98.3 366.7L93.3 361.7L95.0 358.3L95.8 351.7L100.0 348.3L101.7 350.0L102.5 355.0L100.0 360.0L103.7 363.3L105.8 356.7L108.3 361.7L110.0 360.0L112.5 366.7M122.7 393.0L124.2 397.5L126.7 405.0L129.2 415.0L131.7 428.3L134.2 438.3L136.7 448.3L139.2 460.0L143.3 466.7L146.7 471.7L149.2 475.0L150.0 480.0L152.5 486.7L153.7 491.7L153.3 498.0M110.0 460.0L113.3 461.7L114.2 465.8L113.0 470.0L110.0 471.7L106.7 469.2L104.7 465.8L106.3 462.0L110.0 460.0" stroke="#000" stroke-width="1.8" fill="none" stroke-linejoin="round" stroke-linecap="round"/>
<g fill="#000"><ellipse cx="73.3" cy="330.0" rx="1.6" ry="3.0" transform="rotate(-15 73.3 330.0)"/><ellipse cx="88.3" cy="327.5" rx="8.1" ry="1.8" transform="rotate(8 88.3 327.5)"/><ellipse cx="86.7" cy="323.3" rx="1.6" ry="1.3" transform="rotate(0 86.7 323.3)"/><ellipse cx="99.2" cy="325.0" rx="2.0" ry="2.5" transform="rotate(20 99.2 325.0)"/><ellipse cx="85.8" cy="316.7" rx="1.5" ry="1.3" transform="rotate(0 85.8 316.7)"/><ellipse cx="89.2" cy="315.8" rx="1.3" ry="1.1" transform="rotate(0 89.2 315.8)"/><ellipse cx="95.8" cy="316.2" rx="1.5" ry="1.5" transform="rotate(0 95.8 316.2)"/><ellipse cx="93.3" cy="319.5" rx="1.1" ry="1.1" transform="rotate(0 93.3 319.5)"/><ellipse cx="97.5" cy="311.7" rx="1.3" ry="2.4" transform="rotate(20 97.5 311.7)"/><ellipse cx="97.5" cy="304.2" rx="1.3" ry="1.3" transform="rotate(0 97.5 304.2)"/><ellipse cx="100.8" cy="306.7" rx="1.1" ry="1.5" transform="rotate(0 100.8 306.7)"/><ellipse cx="105.0" cy="308.0" rx="1.3" ry="0.9" transform="rotate(0 105.0 308.0)"/><ellipse cx="106.7" cy="303.0" rx="1.1" ry="1.1" transform="rotate(0 106.7 303.0)"/><ellipse cx="80.3" cy="344.2" rx="1.8" ry="3.8" transform="rotate(-30 80.3 344.2)"/><ellipse cx="90.8" cy="345.5" rx="2.9" ry="1.6" transform="rotate(10 90.8 345.5)"/><ellipse cx="94.2" cy="339.2" rx="1.8" ry="1.3" transform="rotate(0 94.2 339.2)"/><ellipse cx="99.2" cy="334.2" rx="2.9" ry="1.8" transform="rotate(15 99.2 334.2)"/><ellipse cx="90.0" cy="337.5" rx="1.1" ry="0.9" transform="rotate(0 90.0 337.5)"/><ellipse cx="72.5" cy="315.0" rx="1.1" ry="1.1" transform="rotate(0 72.5 315.0)"/><ellipse cx="95.8" cy="370.8" rx="1.1" ry="1.1" transform="rotate(0 95.8 370.8)"/><ellipse cx="110.0" cy="320.8" rx="1.8" ry="2.0" transform="rotate(0 110.0 320.8)"/><ellipse cx="105.3" cy="329.7" rx="2.0" ry="1.8" transform="rotate(0 105.3 329.7)"/><ellipse cx="103.7" cy="291.7" rx="1.6" ry="0.9" transform="rotate(0 103.7 291.7)"/><ellipse cx="122.5" cy="393.3" rx="2.7" ry="4.1" transform="rotate(-10 122.5 393.3)"/><ellipse cx="124.2" cy="416.3" rx="2.4" ry="1.6" transform="rotate(30 124.2 416.3)"/><ellipse cx="127.5" cy="421.7" rx="1.5" ry="2.7" transform="rotate(-15 127.5 421.7)"/><ellipse cx="130.8" cy="428.0" rx="1.5" ry="2.7" transform="rotate(-15 130.8 428.0)"/><ellipse cx="114.2" cy="476.7" rx="2.7" ry="2.0" transform="rotate(-20 114.2 476.7)"/><ellipse cx="110.0" cy="488.3" rx="5.2" ry="1.6" transform="rotate(-50 110.0 488.3)"/><ellipse cx="112.0" cy="494.2" rx="2.4" ry="1.3" transform="rotate(-30 112.0 494.2)"/><ellipse cx="107.5" cy="493.3" rx="1.6" ry="1.3" transform="rotate(0 107.5 493.3)"/><ellipse cx="99.2" cy="503.3" rx="1.5" ry="1.1" transform="rotate(-30 99.2 503.3)"/><ellipse cx="115.8" cy="459.2" rx="1.1" ry="1.1" transform="rotate(0 115.8 459.2)"/><ellipse cx="107.5" cy="474.2" rx="1.1" ry="0.9" transform="rotate(0 107.5 474.2)"/><ellipse cx="110.0" cy="472.0" rx="1.6" ry="1.3" transform="rotate(0 110.0 472.0)"/><ellipse cx="328.7" cy="411.7" rx="0.9" ry="1.6" transform="rotate(0 328.7 411.7)"/><ellipse cx="164.2" cy="574.2" rx="2.9" ry="2.4" transform="rotate(0 164.2 574.2)"/><ellipse cx="149.5" cy="522.5" rx="1.5" ry="3.0" transform="rotate(0 149.5 522.5)"/><ellipse cx="108.3" cy="492.5" rx="5.8" ry="2.0" transform="rotate(-30 108.3 492.5)"/><ellipse cx="99.2" cy="503.3" rx="1.6" ry="1.3" transform="rotate(-30 99.2 503.3)"/><ellipse cx="95.8" cy="510.0" rx="1.1" ry="1.1" transform="rotate(0 95.8 510.0)"/><ellipse cx="563.8" cy="471.4" rx="1.3" ry="1.3" transform="rotate(0 563.8 471.4)"/><ellipse cx="948.0" cy="575.5" rx="0.8" ry="0.8" transform="rotate(0 948.0 575.5)"/></g>
<path d="M73.7 220.3l0.4 -0.3l0.4 0.3l-0.4 0.3zM82.5 224.6l0.7 -0.5l0.7 0.5l-0.7 0.5zM72.5 230.1l0.3 -0.4l0.3 0.4l-0.3 0.4zM74.1 234.9l0.5 -0.5l0.5 0.5l-0.5 0.5zM82.3 232.7l0.5 -0.4l0.5 0.4l-0.5 0.4zM85.6 239.6l0.5 -0.9l0.5 0.9l-0.5 0.9zM94.2 248.7l0.7 -0.7l0.7 0.7l-0.7 0.7zM70.0 255.4l0.7 -0.7l0.7 0.7l-0.7 0.7zM76.5 257.6l0.7 -0.5l0.7 0.5l-0.7 0.5zM70.0 269.7l0.7 -0.5l0.7 0.5l-0.7 0.5zM73.3 274.0l0.4 -0.4l0.4 0.4l-0.4 0.4zM81.0 271.4l0.5 -0.4l0.5 0.4l-0.5 0.4zM85.0 269.3l0.4 -0.4l0.4 0.4l-0.4 0.4zM69.2 280.5l0.8 -1.0l0.8 1.0l-0.8 1.0zM75.1 280.8l0.9 -0.7l0.9 0.7l-0.9 0.7zM78.4 283.4l0.5 -0.7l0.5 0.7l-0.5 0.7zM88.2 282.5l1.4 -1.2l1.4 1.2l-1.4 1.2zM90.8 277.9l0.4 -0.4l0.4 0.4l-0.4 0.4zM100.9 269.7l0.3 -0.5l0.3 0.5l-0.3 0.5zM104.6 277.9l0.4 -0.5l0.4 0.5l-0.4 0.5zM68.9 245.6l0.5 -0.7l0.5 0.7l-0.5 0.7zM79.1 212.1l0.7 -1.2l0.7 1.2l-0.7 1.2zM71.5 187.2l0.5 -0.5l0.5 0.5l-0.5 0.5zM74.8 195.8l0.3 -0.7l0.3 0.7l-0.3 0.7zM72.5 250.8l0.3 -0.3l0.3 0.3l-0.3 0.3zM82.0 262.8l0.3 -0.3l0.3 0.3l-0.3 0.3zM76.8 266.2l0.4 -0.3l0.4 0.3l-0.4 0.3zM67.4 273.1l0.3 -0.4l0.3 0.4l-0.3 0.4zM80.2 276.5l0.4 -0.3l0.4 0.3l-0.4 0.3zM94.7 280.0l0.5 -0.3l0.5 0.3l-0.5 0.3zM85.4 275.7l0.3 -0.3l0.3 0.3l-0.3 0.3z" stroke="#000" stroke-width="0.55" fill="none"/>
<rect x="66.3" y="47.0" width="893.2" height="539.4" fill="none" stroke="#000" stroke-width="1.35"/>
<path d="M130.4 47.0V35.0M130.4 586.4V598.4M210.9 47.0V35.0M210.9 586.4V598.4M371.9 47.0V35.0M371.9 586.4V598.4M452.4 47.0V35.0M452.4 586.4V598.4M533.0 47.0V35.0M533.0 586.4V598.4M613.5 47.0V35.0M613.5 586.4V598.4M774.5 47.0V35.0M774.5 586.4V598.4M855.0 47.0V35.0M855.0 586.4V598.4M935.6 47.0V35.0M935.6 586.4V598.4M66.3 546.5H54.3M959.5 546.5H971.5M66.3 466.0H54.3M959.5 466.0H971.5M66.3 305.0H54.3M959.5 305.0H971.5M66.3 224.5H54.3M959.5 224.5H971.5M66.3 144.0H54.3M959.5 144.0H971.5M66.3 63.5H54.3M959.5 63.5H971.5" stroke="#555" stroke-width="1" fill="none"/>
<path d="M291.4 47.0V23.0M291.4 586.4V610.4M694.0 47.0V23.0M694.0 586.4V610.4M66.3 385.5H42.3M959.5 385.5H983.5" stroke="#000" stroke-width="1.2" fill="none"/>
<g shape-rendering="crispEdges">
<rect x="203" y="648" width="5" height="22" fill="#543005"/>
<rect x="208" y="648" width="5" height="22" fill="#583305"/>
<rect x="213" y="648" width="5" height="22" fill="#5d3506"/>
<rect x="218" y="648" width="5" height="22" fill="#613806"/>
<rect x="223" y="648" width="6" height="22" fill="#663a07"/>
<rect x="229" y="648" width="5" height="22" fill="#6a3d07"/>
<rect x="234" y="648" width="5" height="22" fill="#6e4007"/>
<rect x="239" y="648" width="5" height="22" fill="#734208"/>
<rect x="244" y="648" width="5" height="22" fill="#774508"/>
<rect x="249" y="648" width="5" height="22" fill="#7e4909"/>
<rect x="254" y="648" width="5" height="22" fill="#824b09"/>
<rect x="259" y="648" width="5" height="22" fill="#874e0a"/>
<rect x="264" y="648" width="5" height="22" fill="#8b500a"/>
<rect x="269" y="648" width="5" height="22" fill="#8f540c"/>
<rect x="274" y="648" width="6" height="22" fill="#93580f"/>
<rect x="280" y="648" width="5" height="22" fill="#975b12"/>
<rect x="285" y="648" width="5" height="22" fill="#9b5f14"/>
<rect x="290" y="648" width="5" height="22" fill="#9f6317"/>
<rect x="295" y="648" width="5" height="22" fill="#a5691b"/>
<rect x="300" y="648" width="5" height="22" fill="#a96c1e"/>
<rect x="305" y="648" width="5" height="22" fill="#ad7021"/>
<rect x="310" y="648" width="5" height="22" fill="#b17423"/>
<rect x="315" y="648" width="5" height="22" fill="#b57826"/>
<rect x="320" y="648" width="5" height="22" fill="#b97b29"/>
<rect x="325" y="648" width="6" height="22" fill="#bd7f2c"/>
<rect x="331" y="648" width="5" height="22" fill="#c08430"/>
<rect x="336" y="648" width="5" height="22" fill="#c48b3a"/>
<rect x="341" y="648" width="5" height="22" fill="#c79040"/>
<rect x="346" y="648" width="5" height="22" fill="#c99546"/>
<rect x="351" y="648" width="5" height="22" fill="#cc9a4c"/>
<rect x="356" y="648" width="5" height="22" fill="#cea053"/>
<rect x="361" y="648" width="5" height="22" fill="#d1a559"/>
<rect x="366" y="648" width="5" height="22" fill="#d3aa5f"/>
<rect x="371" y="648" width="5" height="22" fill="#d6af65"/>
<rect x="376" y="648" width="6" height="22" fill="#d8b46c"/>
<rect x="382" y="648" width="5" height="22" fill="#dcbc75"/>
<rect x="387" y="648" width="5" height="22" fill="#dec17b"/>
<rect x="392" y="648" width="5" height="22" fill="#e0c481"/>
<rect x="397" y="648" width="5" height="22" fill="#e2c787"/>
<rect x="402" y="648" width="5" height="22" fill="#e4ca8c"/>
<rect x="407" y="648" width="5" height="22" fill="#e6cd92"/>
<rect x="412" y="648" width="5" height="22" fill="#e8d097"/>
<rect x="417" y="648" width="5" height="22" fill="#e9d39d"/>
<rect x="422" y="648" width="5" height="22" fill="#ebd6a2"/>
<rect x="427" y="648" width="6" height="22" fill="#eedbaa"/>
<rect x="433" y="648" width="5" height="22" fill="#f0deb0"/>
<rect x="438" y="648" width="5" height="22" fill="#f1e1b5"/>
<rect x="443" y="648" width="5" height="22" fill="#f3e4bb"/>
<rect x="448" y="648" width="5" height="22" fill="#f5e7c0"/>
<rect x="453" y="648" width="5" height="22" fill="#f6e9c5"/>
<rect x="458" y="648" width="5" height="22" fill="#f6eac9"/>
<rect x="463" y="648" width="5" height="22" fill="#f6ebcd"/>
<rect x="468" y="648" width="5" height="22" fill="#f6ecd3"/>
<rect x="473" y="648" width="5" height="22" fill="#f6edd7"/>
<rect x="478" y="648" width="6" height="22" fill="#f6eedb"/>
<rect x="484" y="648" width="5" height="22" fill="#f5efde"/>
<rect x="489" y="648" width="5" height="22" fill="#f5f0e2"/>
<rect x="494" y="648" width="5" height="22" fill="#f5f1e6"/>
<rect x="499" y="648" width="5" height="22" fill="#f5f2ea"/>
<rect x="504" y="648" width="5" height="22" fill="#f5f3ee"/>
<rect x="509" y="648" width="5" height="22" fill="#f5f4f2"/>
<rect x="514" y="648" width="5" height="22" fill="#f2f4f4"/>
<rect x="519" y="648" width="5" height="22" fill="#eff3f3"/>
<rect x="524" y="648" width="5" height="22" fill="#ebf3f2"/>
<rect x="529" y="648" width="6" height="22" fill="#e7f2f0"/>
<rect x="535" y="648" width="5" height="22" fill="#e4f1ef"/>
<rect x="540" y="648" width="5" height="22" fill="#e0f0ee"/>
<rect x="545" y="648" width="5" height="22" fill="#ddefed"/>
<rect x="550" y="648" width="5" height="22" fill="#d9eeeb"/>
<rect x="555" y="648" width="5" height="22" fill="#d5edea"/>
<rect x="560" y="648" width="5" height="22" fill="#d0ece8"/>
<rect x="565" y="648" width="5" height="22" fill="#ccebe7"/>
<rect x="570" y="648" width="5" height="22" fill="#c9eae6"/>
<rect x="575" y="648" width="5" height="22" fill="#c4e9e4"/>
<rect x="580" y="648" width="6" height="22" fill="#bfe7e1"/>
<rect x="586" y="648" width="5" height="22" fill="#b9e4de"/>
<rect x="591" y="648" width="5" height="22" fill="#b4e2db"/>
<rect x="596" y="648" width="5" height="22" fill="#aee0d8"/>
<rect x="601" y="648" width="5" height="22" fill="#a6dcd4"/>
<rect x="606" y="648" width="5" height="22" fill="#a0dad1"/>
<rect x="611" y="648" width="5" height="22" fill="#9ad8ce"/>
<rect x="616" y="648" width="5" height="22" fill="#95d6cc"/>
<rect x="621" y="648" width="5" height="22" fill="#8fd3c9"/>
<rect x="626" y="648" width="5" height="22" fill="#8ad1c6"/>
<rect x="631" y="648" width="6" height="22" fill="#84cfc3"/>
<rect x="637" y="648" width="5" height="22" fill="#7fccc0"/>
<rect x="642" y="648" width="5" height="22" fill="#79c8bc"/>
<rect x="647" y="648" width="5" height="22" fill="#70c1b6"/>
<rect x="652" y="648" width="5" height="22" fill="#6abdb2"/>
<rect x="657" y="648" width="5" height="22" fill="#64b9ae"/>
<rect x="662" y="648" width="5" height="22" fill="#5eb5aa"/>
<rect x="667" y="648" width="5" height="22" fill="#58b0a7"/>
<rect x="672" y="648" width="5" height="22" fill="#52aca3"/>
<rect x="677" y="648" width="5" height="22" fill="#4da89f"/>
<rect x="682" y="648" width="6" height="22" fill="#47a49b"/>
<rect x="688" y="648" width="5" height="22" fill="#419f97"/>
<rect x="693" y="648" width="5" height="22" fill="#389991"/>
<rect x="698" y="648" width="5" height="22" fill="#33958d"/>
<rect x="703" y="648" width="5" height="22" fill="#2f9189"/>
<rect x="708" y="648" width="5" height="22" fill="#2b8d85"/>
<rect x="713" y="648" width="5" height="22" fill="#278a82"/>
<rect x="718" y="648" width="5" height="22" fill="#23867e"/>
<rect x="723" y="648" width="5" height="22" fill="#1f827a"/>
<rect x="728" y="648" width="5" height="22" fill="#1a7e76"/>
<rect x="733" y="648" width="6" height="22" fill="#147870"/>
<rect x="739" y="648" width="5" height="22" fill="#10746c"/>
<rect x="744" y="648" width="5" height="22" fill="#0c7169"/>
<rect x="749" y="648" width="5" height="22" fill="#086d65"/>
<rect x="754" y="648" width="5" height="22" fill="#046961"/>
<rect x="759" y="648" width="5" height="22" fill="#01655d"/>
<rect x="764" y="648" width="5" height="22" fill="#016259"/>
<rect x="769" y="648" width="5" height="22" fill="#015f56"/>
<rect x="774" y="648" width="5" height="22" fill="#015b52"/>
<rect x="779" y="648" width="5" height="22" fill="#01564d"/>
<rect x="784" y="648" width="6" height="22" fill="#015349"/>
<rect x="790" y="648" width="5" height="22" fill="#005046"/>
<rect x="795" y="648" width="5" height="22" fill="#004c42"/>
<rect x="800" y="648" width="5" height="22" fill="#00493e"/>
<rect x="805" y="648" width="5" height="22" fill="#00463b"/>
<rect x="810" y="648" width="5" height="22" fill="#004337"/>
<rect x="815" y="648" width="5" height="22" fill="#003f34"/>
<rect x="820" y="648" width="5" height="22" fill="#003c30"/>
</g>
<text x="65.6" y="16.1" font-size="21.05">Annual Rainfall Change 2071-2090/1986-2005 for rcp4.5</text>
<text x="961.9" y="20.8" font-size="23.2" text-anchor="end">%</text>
<text x="291.6" y="636" font-size="17.8" text-anchor="middle">45E</text>
<text x="694.4" y="636" font-size="17.8" text-anchor="middle">50E</text>
<text x="31.6" y="391.5" font-size="17.8" text-anchor="end">15N</text>
<text x="208.2" y="696.8" font-size="17.8" text-anchor="middle">-30</text>
<text x="238.8" y="696.8" font-size="17.8" text-anchor="middle">-27</text>
<text x="269.4" y="696.8" font-size="17.8" text-anchor="middle">-24</text>
<text x="300.0" y="696.8" font-size="17.8" text-anchor="middle">-21</text>
<text x="330.6" y="696.8" font-size="17.8" text-anchor="middle">-18</text>
<text x="361.2" y="696.8" font-size="17.8" text-anchor="middle">-15</text>
<text x="391.8" y="696.8" font-size="17.8" text-anchor="middle">-12</text>
<text x="422.4" y="696.8" font-size="17.8" text-anchor="middle">-9</text>
<text x="453.0" y="696.8" font-size="17.8" text-anchor="middle">-6</text>
<text x="483.6" y="696.8" font-size="17.8" text-anchor="middle">-3</text>
<text x="514.1" y="696.8" font-size="17.8" text-anchor="middle">0</text>
<text x="544.7" y="696.8" font-size="17.8" text-anchor="middle">3</text>
<text x="575.3" y="696.8" font-size="17.8" text-anchor="middle">6</text>
<text x="605.9" y="696.8" font-size="17.8" text-anchor="middle">9</text>
<text x="636.5" y="696.8" font-size="17.8" text-anchor="middle">12</text>
<text x="667.1" y="696.8" font-size="17.8" text-anchor="middle">15</text>
<text x="697.7" y="696.8" font-size="17.8" text-anchor="middle">18</text>
<text x="728.3" y="696.8" font-size="17.8" text-anchor="middle">21</text>
<text x="758.9" y="696.8" font-size="17.8" text-anchor="middle">24</text>
<text x="789.5" y="696.8" font-size="17.8" text-anchor="middle">27</text>
<text x="820.1" y="696.8" font-size="17.8" text-anchor="middle">30</text>
</svg></body></html>
